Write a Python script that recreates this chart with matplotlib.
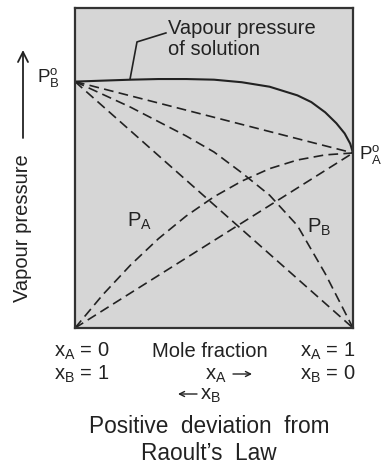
import matplotlib
matplotlib.use('Agg')
import matplotlib.pyplot as plt

plt.rcParams['font.family'] = ['Liberation Sans', 'DejaVu Sans']
plt.rcParams['mathtext.fontset'] = 'custom'
plt.rcParams['mathtext.rm'] = 'Liberation Sans'
plt.rcParams['mathtext.it'] = 'Liberation Sans:italic'
plt.rcParams['mathtext.bf'] = 'Liberation Sans:bold'
plt.rcParams['lines.scale_dashes'] = False

# ---------------- data (normalised 0..1) ----------------
P_A0 = 0.547   # vapour pressure of pure A (at x_A = 1)
P_B0 = 0.770   # vapour pressure of pure B (at x_A = 0)

# total vapour pressure of the solution (solid curve)
total_x = [0.0, 0.1, 0.2, 0.3, 0.4, 0.5, 0.6, 0.7, 0.8, 0.85, 0.9, 0.94, 0.97, 0.99, 1.0]
total_y = [0.770, 0.773, 0.776, 0.778, 0.778, 0.776, 0.768, 0.754, 0.727, 0.706, 0.674,
           0.640, 0.608, 0.576, 0.547]

# partial pressure curves (dashed, positive deviation)
x_mole = [0.0, 0.1, 0.2, 0.3, 0.4, 0.5, 0.6, 0.7, 0.8, 0.9, 1.0]
pA_actual = [0.0, 0.104, 0.197, 0.279, 0.350, 0.410, 0.459, 0.498, 0.525, 0.541, 0.547]
pB_actual = [0.770, 0.730, 0.690, 0.645, 0.600, 0.550, 0.485, 0.415, 0.320, 0.170, 0.0]

# ideal (Raoult) straight lines
ideal_x = [0.0, 1.0]
ideal_total = [P_B0, P_A0]
ideal_pA = [0.0, P_A0]
ideal_pB = [P_B0, 0.0]

# leader line of the annotation
leader_x = [0.198, 0.223, 0.327]
leader_y = [0.778, 0.894, 0.922]

W, H = 385, 466
def fx(px):
    return px / W
def fy(py):
    return 1 - py / H

INK = '#222222'

fig = plt.figure(figsize=(W / 100, H / 100), dpi=100)
fig.patch.set_facecolor('white')
ax = fig.add_axes([fx(75), 1 - 328 / H, 278 / W, 320 / H])
ax.set_xlim(0, 1)
ax.set_ylim(0, 1)
ax.set_facecolor('#d6d6d6')
for s in ax.spines.values():
    s.set_linewidth(1.6)
    s.set_color('#333333')
ax.set_xticks([])
ax.set_yticks([])

dash = (0, (7, 3.8))
lw_d = 1.2
ax.plot(total_x, total_y, color=INK, lw=1.5, solid_capstyle='round')
ax.plot(ideal_x, ideal_total, color=INK, lw=lw_d, linestyle=dash)
ax.plot(ideal_x, ideal_pA, color=INK, lw=lw_d, linestyle=dash)
ax.plot(ideal_x, ideal_pB, color=INK, lw=lw_d, linestyle=dash)
ax.plot(x_mole, pA_actual, color=INK, lw=lw_d, linestyle=dash)
ax.plot(x_mole, pB_actual, color=INK, lw=lw_d, linestyle=dash)
ax.plot(leader_x, leader_y, color=INK, lw=1.2)

fig.text(fx(168), fy(39), 'Vapour pressure\nof solution', ha='left', va='center',
         fontsize=14.5, color=INK, linespacing=1.12)

# pure component labels
fig.text(fx(37), fy(82), r'$\mathrm{P}_{\mathrm{B}}^{\mathrm{o}}$', ha='left', va='baseline',
         fontsize=13.5, color=INK)
fig.text(fx(359), fy(159), r'$\mathrm{P}_{\mathrm{A}}^{\mathrm{o}}$', ha='left', va='baseline',
         fontsize=13.5, color=INK)
fig.text(fx(127), fy(227), r'$\mathrm{P}_{\mathrm{A}}$', ha='left', va='baseline',
         fontsize=14.5, color=INK)
fig.text(fx(307), fy(233), r'$\mathrm{P}_{\mathrm{B}}$', ha='left', va='baseline',
         fontsize=14.5, color=INK)

# y-axis label with arrow
fig.text(fx(23), fy(228), 'Vapour pressure', rotation=90, ha='center', va='center',
         fontsize=14.5, color=INK)
ax.annotate('', xy=(23, H - 50), xycoords='figure pixels',
            xytext=(23, H - 138), textcoords='figure pixels',
            arrowprops=dict(arrowstyle='->', color=INK, lw=1.3,
                            mutation_scale=18, shrinkA=0, shrinkB=0))

# bottom labels
fs = 14.5
fig.text(fx(54), fy(357), r'$\mathrm{x}_{\mathrm{A}}$ = 0', ha='left', va='baseline', fontsize=fs, color=INK)
fig.text(fx(54), fy(380), r'$\mathrm{x}_{\mathrm{B}}$ = 1', ha='left', va='baseline', fontsize=fs, color=INK)
fig.text(fx(300), fy(357), r'$\mathrm{x}_{\mathrm{A}}$ = 1', ha='left', va='baseline', fontsize=fs, color=INK)
fig.text(fx(300), fy(380), r'$\mathrm{x}_{\mathrm{B}}$ = 0', ha='left', va='baseline', fontsize=fs, color=INK)
fig.text(fx(152), fy(357), 'Mole fraction', ha='left', va='baseline', fontsize=fs, color=INK)
fig.text(fx(205), fy(380), r'$\mathrm{x}_{\mathrm{A}}$', ha='left', va='baseline', fontsize=fs, color=INK)
fig.text(fx(200), fy(400), r'$\mathrm{x}_{\mathrm{B}}$', ha='left', va='baseline', fontsize=fs, color=INK)
small_arrow = dict(arrowstyle='->', color=INK, lw=1.0, mutation_scale=9, shrinkA=0, shrinkB=0)
ax.annotate('', xy=(252, H - 374), xycoords='figure pixels',
            xytext=(233, H - 374), textcoords='figure pixels', arrowprops=small_arrow)
ax.annotate('', xy=(178, H - 394), xycoords='figure pixels',
            xytext=(197, H - 394), textcoords='figure pixels', arrowprops=small_arrow)

fig.text(fx(209), fy(433), 'Positive  deviation  from', ha='center', va='baseline',
         fontsize=16.3, color=INK)
fig.text(fx(209), fy(460), 'Raoult\u2019s  Law', ha='center', va='baseline',
         fontsize=16.3, color=INK)

fig.savefig('out.png', dpi=100)
